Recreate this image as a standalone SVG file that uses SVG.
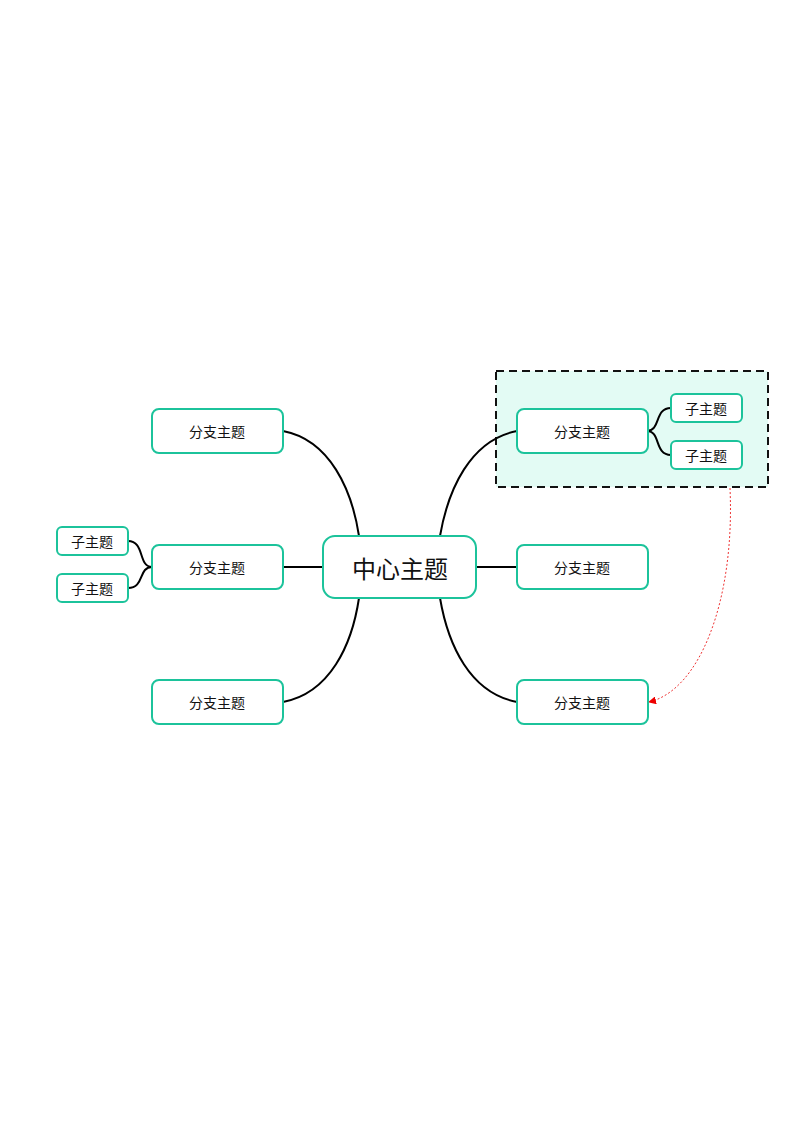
<svg xmlns="http://www.w3.org/2000/svg" width="800" height="1131" viewBox="0 0 800 1131">
<defs>
<style>
.n{fill:#fff;stroke:#1cc39b;stroke-width:2}
.t{font-family:"Noto Sans CJK SC","Noto Sans",sans-serif;fill:#111;text-anchor:middle;dominant-baseline:central}
.c{fill:none;stroke:#000;stroke-width:2}
</style>
<marker id="ar" markerWidth="8" markerHeight="8" refX="7" refY="4" orient="auto" markerUnits="userSpaceOnUse"><path d="M0,0L8,4L0,8Z" fill="#e00"/></marker>
</defs>
<rect width="800" height="1131" fill="#fff"/>
<g id="boundary"><rect x="496" y="371" width="272" height="116" fill="#e3fbf4" stroke="#111" stroke-width="2" stroke-dasharray="8,5"/></g>
<g id="connectors">
<path class="c" d="M283,431 C330,440 352,490 359,536"/>
<path class="c" d="M283,702 C330,693 352,645 359,598"/>
<path class="c" d="M283,567 H323"/>
<path class="c" d="M517,431 C470,440 448,490 440,536"/>
<path class="c" d="M517,702 C470,693 448,645 440,598"/>
<path class="c" d="M476,567 H517"/>
<path class="c" d="M128,541 C145,541 138,567 152,567 C138,567 145,588 128,588"/>
<path class="c" d="M671,408 C654,408 661,431 647,431 C661,431 654,455 671,455"/>
<path d="M730,488 C735,600 700,690 649,702" fill="none" stroke="#e33" stroke-width="1" stroke-dasharray="2,2" marker-end="url(#ar)"/>
</g>
<g id="center"><rect class="n" x="323" y="536" width="153" height="62" rx="12" stroke-width="1.5"/><text class="t" x="400" y="567" font-size="24">中心主题</text></g>
<g id="l1"><rect class="n" x="152" y="409" width="131" height="44" rx="7"/><text class="t" x="217" y="431" font-size="14">分支主题</text></g>
<g id="l2"><rect class="n" x="152" y="545" width="131" height="44" rx="7"/><text class="t" x="217" y="567" font-size="14">分支主题</text></g>
<g id="l3"><rect class="n" x="152" y="680" width="131" height="44" rx="7"/><text class="t" x="217" y="702" font-size="14">分支主题</text></g>
<g id="r1"><rect class="n" x="517" y="409" width="131" height="44" rx="7"/><text class="t" x="582" y="431" font-size="14">分支主题</text></g>
<g id="r2"><rect class="n" x="517" y="545" width="131" height="44" rx="7" stroke-width="1.2"/><text class="t" x="582" y="567" font-size="14">分支主题</text></g>
<g id="r3"><rect class="n" x="517" y="680" width="131" height="44" rx="7"/><text class="t" x="582" y="702" font-size="14">分支主题</text></g>
<g id="ls1"><rect class="n" x="57" y="527" width="71" height="28" rx="5"/><text class="t" x="92" y="541" font-size="14">子主题</text></g>
<g id="ls2"><rect class="n" x="57" y="574" width="71" height="28" rx="5"/><text class="t" x="92" y="588" font-size="14">子主题</text></g>
<g id="rs1"><rect class="n" x="671" y="394" width="71" height="28" rx="5"/><text class="t" x="706" y="408" font-size="14">子主题</text></g>
<g id="rs2"><rect class="n" x="671" y="441" width="71" height="28" rx="5"/><text class="t" x="706" y="455" font-size="14">子主题</text></g>
</svg>
